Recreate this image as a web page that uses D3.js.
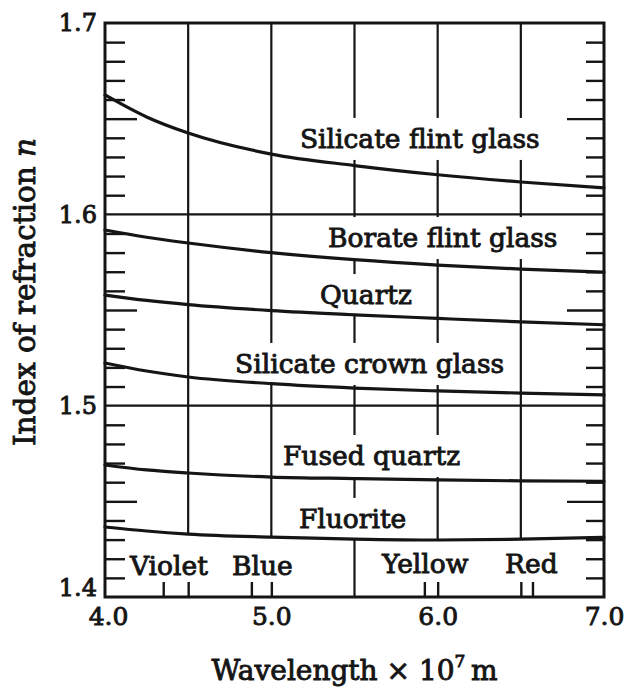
<!DOCTYPE html>
<html>
<head>
<meta charset="utf-8">
<script src="https://cdn.jsdelivr.net/npm/d3@7"></script>
<style>
  html, body { margin: 0; padding: 0; background: #fff; }
  svg { display: block; }
  text { font-family: "DejaVu Serif", serif; fill: #151515; }
</style>
</head>
<body>
<svg id="chart" width="629" height="690"></svg>
<script>
// ---- data ----
const wavelengths   = [4.0, 4.25, 4.5, 5.0, 5.5, 6.0, 6.5, 7.0];
const silicateFlint = [1.6624, 1.6509, 1.6425, 1.6315, 1.6255, 1.6207, 1.6169, 1.6138];
const borateFlint   = [1.5918, 1.5880, 1.5850, 1.5800, 1.5763, 1.5735, 1.5714, 1.5698];
const quartz        = [1.5578, 1.5550, 1.5528, 1.5497, 1.5475, 1.5456, 1.5438, 1.5423];
const silicateCrown = [1.5223, 1.5181, 1.5150, 1.5115, 1.5092, 1.5077, 1.5066, 1.5056];
const fusedQuartz   = [1.4690, 1.4664, 1.4648, 1.4627, 1.4619, 1.4612, 1.4607, 1.4605];
const fluorite      = [1.4366, 1.4345, 1.4329, 1.4313, 1.4303, 1.4298, 1.4302, 1.4312];

const seriesNames = ["Silicate flint glass", "Borate flint glass", "Quartz",
                     "Silicate crown glass", "Fused quartz", "Fluorite"];
const seriesValues = [silicateFlint, borateFlint, quartz, silicateCrown, fusedQuartz, fluorite];

const xTickLabels = [4.0, 5.0, 6.0, 7.0];
const yTickLabels = [1.4, 1.5, 1.6, 1.7];
const xGridValues = [4.5, 5.0, 5.5, 6.0, 6.5];
const yGridValues = [1.5, 1.6];
const colorBands = ["Violet", "Blue", "Yellow", "Red"];
const colorBoundaryTicks = [4.35, 4.5, 4.88, 5.0, 5.92, 6.0, 6.5, 6.57];

// label anchor positions (data units: wavelength, n at baseline)
const seriesLabelPos = [[5.172, 1.6347], [5.341, 1.5829], [5.293, 1.5531],
                        [4.782, 1.5171], [5.070, 1.4690], [5.166, 1.4361]];
const bandLabelPos = [[4.150, 1.4115], [4.764, 1.4115], [5.665, 1.4125], [6.405, 1.4125]];

// ---- layout ----
const svg = d3.select("#chart");
const pL = 105, pR = 604, pT = 23, pB = 597;
const x = d3.scaleLinear().domain([4, 7]).range([pL, pR]);
const y = d3.scaleLinear().domain([1.4, 1.7]).range([pB, pT]);
const ink = "#151515";
const textStroke = 0.9;

const gGrid = svg.append("g");
const gMask = svg.append("g");
const gCurves = svg.append("g");
const gFrame = svg.append("g");
const gText = svg.append("g");

// horizontal grid
gGrid.selectAll("line.h").data(yGridValues).join("line")
  .attr("class", "h")
  .attr("x1", pL).attr("x2", pR)
  .attr("y1", d => y(d)).attr("y2", d => y(d))
  .attr("stroke", ink).attr("stroke-width", 2.2);

// vertical grid: down to fluorite curve, except 5.5 to the bottom
gGrid.selectAll("line.v").data(xGridValues).join("line")
  .attr("class", "v")
  .attr("x1", d => x(d)).attr("x2", d => x(d))
  .attr("y1", pT)
  .attr("y2", d => d === 5.5 ? pB : y(fluorite[wavelengths.indexOf(d)]))
  .attr("stroke", ink).attr("stroke-width", 2.2);

// curves
const line = d3.line().x(d => x(d[0])).y(d => y(d[1])).curve(d3.curveMonotoneX);
gCurves.selectAll("path").data(seriesValues).join("path")
  .attr("d", vals => line(wavelengths.map((w, i) => [w, vals[i]])))
  .attr("fill", "none").attr("stroke", ink).attr("stroke-width", 3.2)
  .attr("stroke-linecap", "round");

// frame
gFrame.append("rect")
  .attr("x", pL).attr("y", pT).attr("width", pR - pL).attr("height", pB - pT)
  .attr("fill", "none").attr("stroke", ink).attr("stroke-width", 3);

// minor y ticks (every 0.01) on both sides, pointing inward
const minor = d3.range(141, 170).map(v => v / 100).filter(v => Math.round(v * 100) % 10 !== 0);
const isHalf = v => Math.round(v * 100) % 10 === 5;
const leftAxis = d3.axisLeft(y).tickValues(minor.filter(v => !isHalf(v))).tickSize(-20).tickFormat("");
const leftAxisLong = d3.axisLeft(y).tickValues(minor.filter(isHalf)).tickSize(-32).tickFormat("");
const rightAxis = d3.axisRight(y).tickValues(minor.filter(v => !isHalf(v))).tickSize(-18).tickFormat("");
const rightAxisLong = d3.axisRight(y).tickValues(minor.filter(isHalf)).tickSize(-37).tickFormat("");
[[leftAxis, pL], [leftAxisLong, pL], [rightAxis, pR], [rightAxisLong, pR]].forEach(([ax, px]) => {
  const g = gFrame.append("g").attr("transform", `translate(${px},0)`).call(ax);
  g.select(".domain").remove();
  g.selectAll("line").attr("stroke", ink).attr("stroke-width", 2.4);
});

// bottom colour-boundary ticks
const bAxis = d3.axisBottom(x).tickValues(colorBoundaryTicks).tickSize(-15).tickFormat("");
const bg = gFrame.append("g").attr("transform", `translate(0,${pB})`).call(bAxis);
bg.select(".domain").remove();
bg.selectAll("line").attr("stroke", ink).attr("stroke-width", 2.4);

// tick labels
const xa = gText.append("g").attr("transform", `translate(0,${pB})`)
  .call(d3.axisBottom(x).tickValues(xTickLabels).tickSize(0).tickPadding(10).tickFormat(d3.format(".1f")));
xa.select(".domain").remove();
xa.selectAll("text").attr("font-size", 25).attr("font-family", "DejaVu Serif").attr("fill", ink)
  .attr("stroke", ink).attr("stroke-width", textStroke)
  .attr("dx", d => d === 4 ? 3 : 0);

const ya = gText.append("g").attr("transform", `translate(${pL},0)`)
  .call(d3.axisLeft(y).tickValues(yTickLabels).tickSize(0).tickPadding(8).tickFormat(d3.format(".1f")));
ya.select(".domain").remove();
ya.selectAll("text").attr("font-size", 24).attr("font-family", "DejaVu Serif").attr("fill", ink)
  .attr("stroke", ink).attr("stroke-width", textStroke)
  .attr("dy", d => d === 1.4 ? "-0.05em" : "0.32em");

// series labels with white mask behind
const labels = gText.selectAll("text.lbl").data(seriesNames).join("text")
  .attr("class", "lbl")
  .attr("x", (d, i) => x(seriesLabelPos[i][0]))
  .attr("y", (d, i) => y(seriesLabelPos[i][1]))
  .attr("font-size", 26.5)
  .attr("stroke", ink).attr("stroke-width", textStroke)
  .text(d => d);
labels.each(function () {
  const b = this.getBBox();
  gMask.append("rect")
    .attr("x", b.x - 6).attr("y", b.y - 5)
    .attr("width", b.width + 12).attr("height", b.height + 11)
    .attr("fill", "#fff");
});

// colour band labels
gText.selectAll("text.band").data(colorBands).join("text")
  .attr("class", "band")
  .attr("x", (d, i) => x(bandLabelPos[i][0]))
  .attr("y", (d, i) => y(bandLabelPos[i][1]))
  .attr("font-size", 26.5)
  .attr("stroke", ink).attr("stroke-width", textStroke)
  .text(d => d);

// axis titles
const yt = gText.append("text")
  .attr("transform", "translate(35,292) rotate(-90)")
  .attr("text-anchor", "middle")
  .attr("font-size", 29.5)
  .attr("stroke", ink).attr("stroke-width", textStroke);
yt.append("tspan").text("Index of refraction ");
yt.append("tspan").attr("font-style", "italic").text("n");

const xt = gText.append("text")
  .attr("x", x(5.5)).attr("y", 680)
  .attr("text-anchor", "middle")
  .attr("font-size", 28)
  .attr("stroke", ink).attr("stroke-width", textStroke);
xt.append("tspan").text("Wavelength \u00d7 10");
xt.append("tspan").attr("font-size", 17).attr("dy", "-0.75em").text("7");
xt.append("tspan").attr("dy", "0.45em").text("\u2009m");
</script>
</body>
</html>
